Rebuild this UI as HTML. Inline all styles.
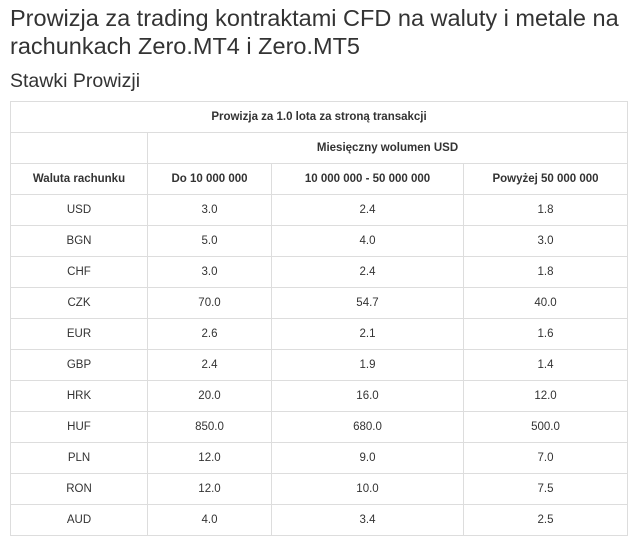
<!DOCTYPE html>
<html><head><meta charset="utf-8"><style>
body{margin:0;width:635px;height:544px;background:#fff;font-family:"Liberation Sans",sans-serif;color:#333;overflow:hidden;position:relative}
h1{position:absolute;left:10px;top:4px;margin:0;font-size:23.5px;font-weight:normal;line-height:28px;color:#333;width:630px}
h2{position:absolute;left:10px;top:70px;margin:0;font-size:19.5px;font-weight:normal;color:#333}
table{position:absolute;left:10px;top:101px;border-collapse:collapse;table-layout:fixed;width:617px}
td,th{border:1px solid #ddd;height:30px;padding:0;text-align:center;font-size:11.5px;color:#333}
th{font-weight:bold}
</style></head><body>
<h1>Prowizja za trading kontraktami CFD na waluty i metale na rachunkach Zero.MT4 i Zero.MT5</h1>
<h2>Stawki Prowizji</h2>
<table>
<colgroup><col style="width:137px"><col style="width:124px"><col style="width:192px"><col style="width:164px"></colgroup>
<tr><th colspan="4">Prowizja za 1.0 lota za stroną transakcji</th></tr>
<tr><th></th><th colspan="3">Miesięczny wolumen USD</th></tr>
<tr><th>Waluta rachunku</th><th>Do 10 000 000</th><th>10 000 000 - 50 000 000</th><th>Powyżej 50 000 000</th></tr>
<tbody id="body"></tbody>
</table>
<script>
const currencies=["USD","BGN","CHF","CZK","EUR","GBP","HRK","HUF","PLN","RON","AUD"];
const tier1=["3.0","5.0","3.0","70.0","2.6","2.4","20.0","850.0","12.0","12.0","4.0"];
const tier2=["2.4","4.0","2.4","54.7","2.1","1.9","16.0","680.0","9.0","10.0","3.4"];
const tier3=["1.8","3.0","1.8","40.0","1.6","1.4","12.0","500.0","7.0","7.5","2.5"];
const tb=document.getElementById('body');
currencies.forEach((c,i)=>{
const tr=document.createElement('tr');


[c,tier1[i],tier2[i],tier3[i]].forEach((v,j)=>{
const td=document.createElement('td');


td.textContent=v;tr.appendChild(td);});
tb.appendChild(tr);});
</script>
</body></html>
